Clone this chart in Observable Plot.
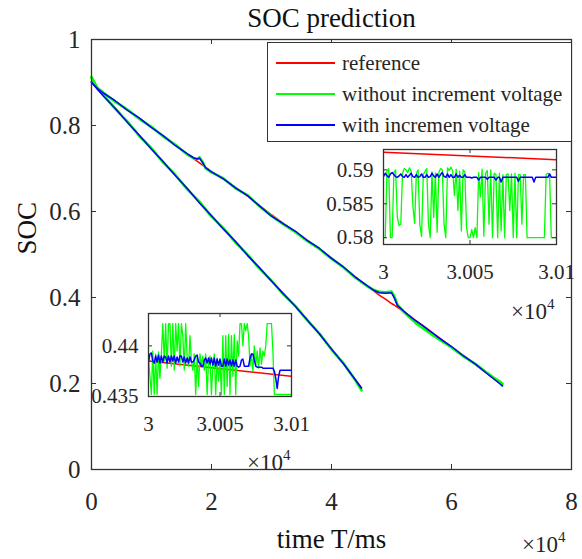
<!DOCTYPE html>
<html><head><meta charset="utf-8">
<script src="https://cdn.jsdelivr.net/npm/d3@7"></script>
<script src="https://cdn.jsdelivr.net/npm/@observablehq/plot@0.6"></script>
<style>
html,body{margin:0;padding:0;background:#fff;}
#wrap{position:relative;width:582px;height:559px;overflow:hidden;font-family:"Liberation Serif","Times New Roman",serif;color:#262626;background:#fff;}
#wrap svg{position:absolute;}
.exp{position:absolute;font-size:23px;line-height:1;white-space:nowrap;}
.exp .sup{position:relative;top:-10px;font-size:15px;}
#legend{position:absolute;left:267px;top:42px;width:305px;height:100px;border:1.3px solid #333;background:#fff;box-sizing:border-box;font-size:21px;}
#legend .row{position:absolute;left:0;height:24px;line-height:24px;white-space:nowrap;}
#legend .sw{position:absolute;left:8px;top:11px;width:59px;height:1.5px;}
#legend .tx{position:absolute;left:74px;top:0;}
</style></head>
<body>
<div id="wrap"></div>
<script>
// ---------- data ----------
const seriesNames = ["reference", "without increment voltage", "with incremen voltage"];
const seriesColors = ["#ff0000", "#00ff00", "#0000ff"];

// faster-discharge run (A)
const tA = [0,1000,2000,4000,6000,8000,10000,12000,14000,16000,18000,20000,22000,24000,26000,28000,30000,32000,34000,36000,38000,40000,42000,44000,45000];
const refA = [0.902,0.887,0.870,0.840,0.808,0.777,0.746,0.715,0.684,0.653,0.621,0.590,0.560,0.530,0.499,0.469,0.4385,0.409,0.379,0.348,0.315,0.281,0.246,0.209,0.190];
const withoutA = [0.912,0.885,0.871,0.838,0.809,0.775,0.747,0.713,0.685,0.651,0.623,0.588,0.561,0.528,0.500,0.467,0.4390,0.407,0.380,0.346,0.316,0.279,0.247,0.207,0.184];
const withA = [0.900,0.884,0.868,0.839,0.807,0.777,0.745,0.715,0.683,0.653,0.620,0.590,0.559,0.530,0.498,0.469,0.4386,0.408,0.379,0.347,0.315,0.280,0.246,0.208,0.189];

// slower-discharge run (B)
const tB = [0,1000,2000,4000,6000,8000,10000,12000,14000,16000,17000,17600,18000,18500,19000,20000,22000,24000,26000,28000,30000,32000,34000,36000,38000,40000,42000,44000,46000,47000,48000,49000,50000,50500,51000,52000,53000,54000,55000,56000,57000,58000,60000,62000,64000,66000,67000,68000,68500];
const refB = [0.902,0.888,0.876,0.856,0.836,0.816,0.796,0.775,0.754,0.733,0.723,0.717,0.713,0.708,0.703,0.693,0.675,0.656,0.636,0.614,0.5925,0.572,0.553,0.533,0.513,0.492,0.470,0.448,0.426,0.416,0.405,0.396,0.386,0.382,0.377,0.368,0.358,0.347,0.337,0.327,0.316,0.306,0.285,0.265,0.244,0.223,0.212,0.201,0.196];
const withB = [0.900,0.886,0.875,0.857,0.835,0.817,0.795,0.776,0.753,0.734,0.725,0.722,0.724,0.714,0.702,0.692,0.676,0.655,0.637,0.613,0.589,0.571,0.554,0.532,0.514,0.491,0.471,0.447,0.427,0.417,0.411,0.410,0.411,0.398,0.381,0.369,0.357,0.346,0.337,0.326,0.316,0.305,0.286,0.264,0.245,0.222,0.211,0.200,0.194];
const withoutB = [0.912,0.887,0.876,0.855,0.837,0.815,0.797,0.774,0.755,0.732,0.724,0.722,0.726,0.716,0.701,0.691,0.677,0.654,0.638,0.612,0.5895,0.570,0.552,0.531,0.513,0.490,0.470,0.446,0.426,0.418,0.413,0.412,0.414,0.402,0.383,0.367,0.354,0.341,0.331,0.321,0.311,0.302,0.284,0.263,0.245,0.224,0.214,0.205,0.199];

// main axes ticks
const xTicks = [0,20000,40000,60000,80000];
const xTickLabels = ["0","2","4","6","8"];
const yTicks = [0,0.2,0.4,0.6,0.8,1];
const yTickLabels = ["0","0.2","0.4","0.6","0.8","1"];

// insets (zoom on 3.000–3.010 ×10^4 ms)
const tInset = d3.range(30000, 30101, 1);
const tInsetRef = [30000, 30100];
const in1Ref = [0.5926, 0.5915];
const in1Without = [0.5800,0.5800,0.5898,0.5902,0.5800,0.5800,0.5896,0.5900,0.5830,0.5818,
 0.5820,0.5895,0.5902,0.5900,0.5896,0.5903,0.5898,0.5846,0.5821,0.5895,
 0.5900,0.5819,0.5802,0.5893,0.5898,0.5902,0.5820,0.5800,0.5897,0.5830,
 0.5895,0.5808,0.5896,0.5902,0.5900,0.5820,0.5800,0.5903,0.5899,0.5904,
 0.5898,0.5862,0.5901,0.5840,0.5898,0.5810,0.5900,0.5897,0.5815,0.5800,
 0.5800,0.5812,0.5800,0.5815,0.5800,0.5896,0.5860,0.5901,0.5802,0.5895,
 0.5899,0.5820,0.5900,0.5800,0.5895,0.5893,0.5800,0.5895,0.5810,0.5893,
 0.5800,0.5893,0.5894,0.5840,0.5894,0.5800,0.5895,0.5800,0.5893,0.5893,
 0.5820,0.5893,0.5893,0.5800,0.5800,0.5800,0.5800,0.5800,0.5800,0.5800,
 0.5800,0.5800,0.5800,0.5800,0.5893,0.5895,0.5893,0.5800,0.5800,0.5800,
 0.5800];
const in1With = [0.5890,0.5895,0.5891,0.5889,0.5894,0.5896,0.5893,0.5890,0.5889,0.5891,
 0.5894,0.5890,0.5889,0.5893,0.5889,0.5892,0.5895,0.5890,0.5889,0.5893,
 0.5889,0.5890,0.5894,0.5889,0.5889,0.5893,0.5889,0.5890,0.5895,0.5891,
 0.5889,0.5894,0.5889,0.5893,0.5896,0.5890,0.5889,0.5894,0.5889,0.5893,
 0.5889,0.5889,0.5894,0.5889,0.5892,0.5889,0.5889,0.5893,0.5889,0.5889,
 0.5889,0.5888,0.5889,0.5889,0.5889,0.5885,0.5889,0.5889,0.5889,0.5889,
 0.5886,0.5889,0.5889,0.5889,0.5889,0.5885,0.5889,0.5889,0.5882,0.5889,
 0.5889,0.5889,0.5889,0.5889,0.5889,0.5889,0.5889,0.5889,0.5883,0.5889,
 0.5889,0.5889,0.5889,0.5889,0.5889,0.5889,0.5889,0.5882,0.5889,0.5889,
 0.5889,0.5889,0.5889,0.5889,0.5889,0.5889,0.5894,0.5889,0.5889,0.5889,
 0.5889];
const in1YTicks = [0.58, 0.585, 0.59];
const in1YTickLabels = ["0.58", "0.585", "0.59"];

const in2Ref = [0.4385, 0.4370];
const in2Without = [0.4388,0.4370,0.4352,0.4395,0.4352,0.4392,0.4352,0.4394,0.4368,0.4392,
 0.4422,0.4385,0.4422,0.4378,0.4422,0.4422,0.4380,0.4422,0.4376,0.4422,
 0.4395,0.4422,0.4380,0.4422,0.4410,0.4376,0.4422,0.4390,0.4380,0.4410,
 0.4385,0.4376,0.4392,0.4352,0.4390,0.4360,0.4392,0.4380,0.4390,0.4376,
 0.4392,0.4352,0.4385,0.4390,0.4352,0.4380,0.4392,0.4352,0.4388,0.4365,
 0.4385,0.4352,0.4410,0.4352,0.4410,0.4360,0.4411,0.4352,0.4410,0.4370,
 0.4411,0.4352,0.4405,0.4390,0.4422,0.4422,0.4400,0.4422,0.4415,0.4422,
 0.4410,0.4380,0.4392,0.4375,0.4400,0.4380,0.4395,0.4378,0.4398,0.4382,
 0.4395,0.4390,0.4400,0.4422,0.4422,0.4422,0.4422,0.4395,0.4352,0.4352,
 0.4352,0.4352,0.4352,0.4352,0.4352,0.4352,0.4352,0.4352,0.4352,0.4352,
 0.4352];
const in2With = [0.4384,0.4392,0.4393,0.4385,0.4383,0.4390,0.4384,0.4391,0.4383,0.4390,
 0.4384,0.4390,0.4389,0.4383,0.4390,0.4384,0.4390,0.4385,0.4390,0.4383,
 0.4389,0.4384,0.4390,0.4390,0.4384,0.4389,0.4383,0.4388,0.4383,0.4389,
 0.4384,0.4384,0.4386,0.4390,0.4391,0.4384,0.4383,0.4380,0.4380,0.4386,
 0.4388,0.4383,0.4388,0.4382,0.4388,0.4381,0.4388,0.4380,0.4387,0.4381,
 0.4387,0.4380,0.4380,0.4387,0.4380,0.4387,0.4381,0.4386,0.4380,0.4386,
 0.4380,0.4386,0.4380,0.4379,0.4380,0.4386,0.4387,0.4380,0.4380,0.4380,
 0.4380,0.4388,0.4392,0.4392,0.4386,0.4380,0.4379,0.4379,0.4379,0.4379,
 0.4378,0.4378,0.4378,0.4378,0.4378,0.4378,0.4378,0.4378,0.4375,0.4368,
 0.4358,0.4370,0.4376,0.4376,0.4376,0.4376,0.4376,0.4376,0.4376,0.4376,
 0.4376];
const in2YTicks = [0.435, 0.44];
const in2YTickLabels = ["0.435", "0.44"];
const inXTicks = [30000, 30050, 30100];
const inXTickLabels = ["3", "3.005", "3.01"];

// ---------- helpers ----------
const FONT = "Liberation Serif";
const INK = "#262626";
const zip = (t, v) => t.map((x, i) => ({t: x, v: v[i]}));
const lab = (vals, labels) => vals.map((v, i) => ({v, s: labels[i]}));

const wrap = document.getElementById("wrap");

// ---------- main plot ----------
const W = 582, H = 559, mL = 91, mR = 11, mT = 39, mB = 90;
const pw = W - mL - mR, ph = H - mT - mB;
const main = Plot.plot({
  width: W, height: H, marginLeft: mL, marginRight: mR, marginTop: mT, marginBottom: mB,
  style: {background: "transparent", fontFamily: FONT, color: INK, overflow: "visible"},
  x: {domain: [0, 80000], axis: null},
  y: {domain: [0, 1], axis: null},
  marks: [
    Plot.line(zip(tA, refA), {x: "t", y: "v", stroke: seriesColors[0], strokeWidth: 1.5}),
    Plot.line(zip(tB, refB), {x: "t", y: "v", stroke: seriesColors[0], strokeWidth: 1.5}),
    Plot.line(zip(tA, withoutA), {x: "t", y: "v", stroke: seriesColors[1], strokeWidth: 2.6}),
    Plot.line(zip(tB, withoutB), {x: "t", y: "v", stroke: seriesColors[1], strokeWidth: 2.6}),
    Plot.line(zip(tA, withA), {x: "t", y: "v", stroke: seriesColors[2], strokeWidth: 1.5}),
    Plot.line(zip(tB, withB), {x: "t", y: "v", stroke: seriesColors[2], strokeWidth: 1.5}),
    Plot.frame({stroke: "#333", strokeWidth: 1.3}),
    Plot.tickX(xTicks, {x: d => d, insetTop: ph - 5, stroke: "#333"}),
    Plot.tickX(xTicks, {x: d => d, insetBottom: ph - 5, stroke: "#333"}),
    Plot.tickY(yTicks, {y: d => d, insetRight: pw - 5, stroke: "#333"}),
    Plot.tickY(yTicks, {y: d => d, insetLeft: pw - 5, stroke: "#333"}),
    Plot.text(lab(xTicks, xTickLabels), {x: "v", text: "s", frameAnchor: "bottom", lineAnchor: "middle", dy: 32, fontSize: 25, fill: INK, fontFamily: FONT}),
    Plot.text(lab(yTicks, yTickLabels), {y: "v", text: "s", frameAnchor: "left", lineAnchor: "middle", dx: -11, textAnchor: "end", fontSize: 25, fill: INK, fontFamily: FONT}),
    Plot.text(["SOC prediction"], {frameAnchor: "top", lineAnchor: "middle", dy: -21, fontSize: 27, fill: "#111", fontFamily: FONT}),
    Plot.text(["time T/ms"], {frameAnchor: "bottom", lineAnchor: "middle", dy: 70, fontSize: 27, fill: "#111", fontFamily: FONT}),
    Plot.text(["SOC"], {frameAnchor: "left", lineAnchor: "middle", dx: -64, rotate: -90, fontSize: 27, fill: "#111", fontFamily: FONT})
  ]
});
main.style.left = "0px"; main.style.top = "0px";
wrap.appendChild(main);

// ---------- legend ----------
const legend = document.createElement("div");
legend.id = "legend";
const rowTops = [8, 39, 70];
seriesNames.forEach((name, i) => {
  const row = document.createElement("div");
  row.className = "row";
  row.style.top = rowTops[i] + "px";
  row.innerHTML = `<span class="sw" style="background:${seriesColors[i]}"></span><span class="tx">${name}</span>`;
  legend.appendChild(row);
});
wrap.appendChild(legend);

// ---------- inset builder ----------
function inset({left, top, fw, fh, ydomain, ref, without, withv, yTicksIn, yLabelsIn}) {
  const ml = 75, mr = 40, mt = 6, mb = 45;
  const p = Plot.plot({
    width: ml + fw + mr, height: mt + fh + mb, marginLeft: ml, marginRight: mr, marginTop: mt, marginBottom: mb,
    style: {background: "transparent", fontFamily: FONT, color: INK, overflow: "visible"},
    x: {domain: [30000, 30100], axis: null},
    y: {domain: ydomain, axis: null},
    marks: [
      Plot.frame({fill: "white", stroke: "none"}),
      Plot.line(zip(tInsetRef, ref), {x: "t", y: "v", stroke: seriesColors[0], strokeWidth: 1.5, clip: true}),
      Plot.line(zip(tInset, without), {x: "t", y: "v", stroke: seriesColors[1], strokeWidth: 1.3, clip: true}),
      Plot.line(zip(tInset, withv), {x: "t", y: "v", stroke: seriesColors[2], strokeWidth: 1.5, clip: true}),
      Plot.frame({stroke: "#333", strokeWidth: 1.3}),
      Plot.tickX(inXTicks, {x: d => d, insetTop: fh - 4, stroke: "#333"}),
      Plot.tickX(inXTicks, {x: d => d, insetBottom: fh - 4, stroke: "#333"}),
      Plot.tickY(yTicksIn, {y: d => d, insetRight: fw - 4, stroke: "#333"}),
      Plot.tickY(yTicksIn, {y: d => d, insetLeft: fw - 4, stroke: "#333"}),
      Plot.text(lab(inXTicks, inXTickLabels), {x: "v", text: "s", frameAnchor: "bottom", lineAnchor: "middle", dy: 28, fontSize: 21, fill: INK, fontFamily: FONT}),
      Plot.text(lab(yTicksIn, yLabelsIn), {y: "v", text: "s", frameAnchor: "left", lineAnchor: "middle", dx: -10, textAnchor: "end", fontSize: 21, fill: INK, fontFamily: FONT})
    ]
  });
  p.style.left = (left - ml) + "px";
  p.style.top = (top - mt) + "px";
  wrap.appendChild(p);
}

inset({left: 383, top: 149, fw: 173, fh: 95, ydomain: [0.5790, 0.5930],
  ref: in1Ref, without: in1Without, withv: in1With, yTicksIn: in1YTicks, yLabelsIn: in1YTickLabels});
inset({left: 148, top: 313, fw: 143, fh: 83, ydomain: [0.4350, 0.4432],
  ref: in2Ref, without: in2Without, withv: in2With, yTicksIn: in2YTicks, yLabelsIn: in2YTickLabels});

// ---------- ×10^4 exponent labels ----------
[[522, 533], [511, 300], [247, 451]].forEach(([x, y]) => {
  const s = document.createElement("span");
  s.className = "exp";
  s.style.left = x + "px"; s.style.top = y + "px";
  s.innerHTML = '×10<span class="sup">4</span>';
  wrap.appendChild(s);
});
</script>
</body></html>
